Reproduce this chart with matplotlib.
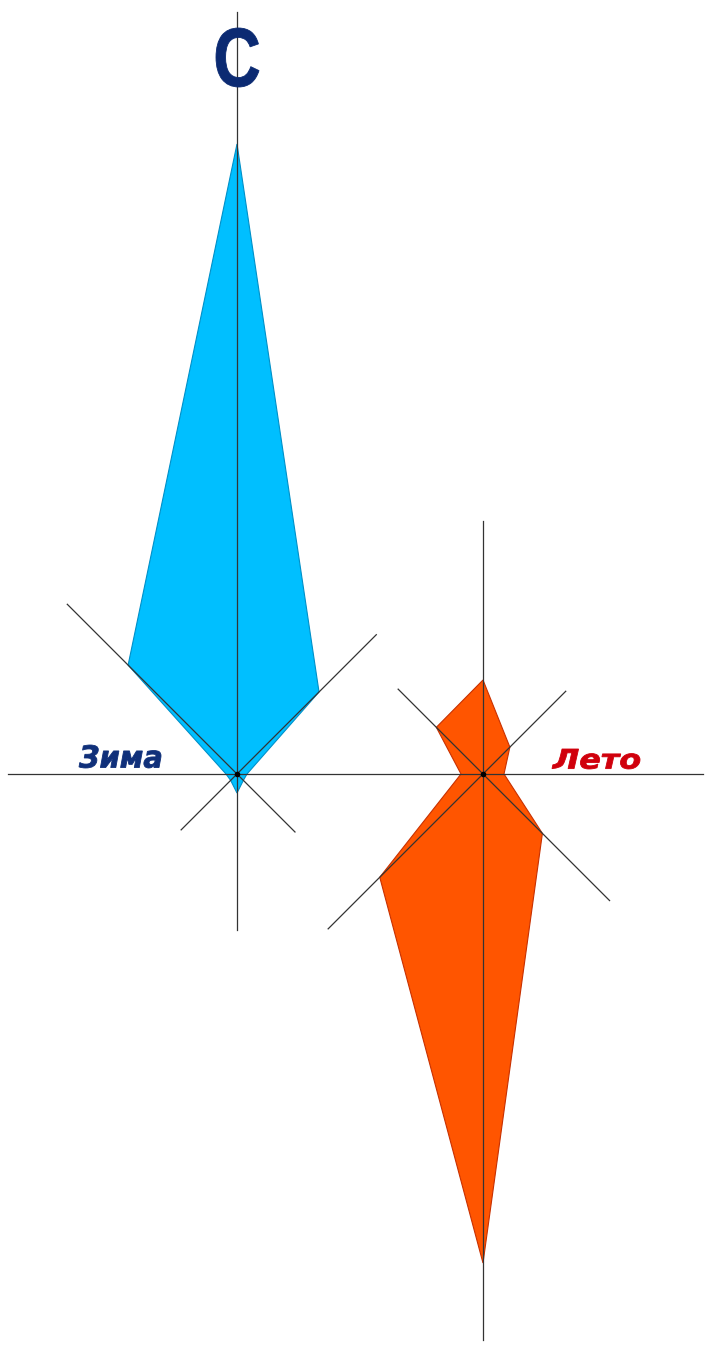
"""
Wind roses: winter (blue) and summer (orange), two polygons on compass axes
"""

import numpy as np
import matplotlib
matplotlib.use('Agg')
from matplotlib import pyplot as plt
from matplotlib.patches import Polygon, PathPatch
from matplotlib.textpath import TextPath
from matplotlib.font_manager import FontProperties
from matplotlib.transforms import Affine2D


# directions, clockwise from north
directions = ['N', 'NE', 'E', 'SE', 'S', 'SW', 'W', 'NW']
angles = [0, 45, 90, 135, 180, 225, 270, 315]

# repeat frequency, %
winter = [63.0, 11.6, 1.0, 0.9, 1.9, 0.9, 1.1, 15.4]
summer = [9.4, 3.8, 2.1, 8.4, 48.9, 14.6, 2.2, 6.6]

# length of the drawn compass arms, same units
winter_arms = [76.2, 19.7, 0, 8.2, 15.6, 7.9, 0, 24.0]
summer_arms = [25.3, 11.7, 0, 17.9, 56.6, 21.9, 0, 12.0]

scale = 10.0  # pixels per percent


def rose_points(values, cx, cy):
    pts = []
    for v, a in zip(values, angles):
        t = np.radians(a)
        r = v * scale
        pts.append((cx + r * np.sin(t), cy - r * np.cos(t)))
    return pts


def draw_arms(ax, arms, cx, cy):
    for r, a in zip(arms, angles):
        if r == 0:
            continue
        t = np.radians(a)
        r = r * scale
        ax.plot([cx, cx + r * np.sin(t)], [cy, cy - r * np.cos(t)],
                color='#333333', lw=0.9, zorder=3)
    ax.plot(cx, cy, 'o', color='black', ms=3, zorder=4)


def box_text(ax, s, x0, x1, y0, y1, color, fp):
    # text fitted into a box (y goes down in this axes)
    path = TextPath((0, 0), s, size=100, prop=fp)
    ext = path.get_extents()
    sx = (x1 - x0) / ext.width
    sy = (y1 - y0) / ext.height
    tr = (Affine2D().translate(-ext.x0, -ext.y1)
          .scale(sx, -sy).translate(x0, y0))
    ax.add_patch(PathPatch(tr.transform_path(path), facecolor=color,
                           edgecolor=color, lw=0.6, zorder=5))


def main():
    fig = plt.figure(figsize=(7.14, 13.56), dpi=100)
    ax = fig.add_axes([0, 0, 1, 1])
    ax.set_xlim(0, 714)
    ax.set_ylim(1356, 0)
    ax.set_aspect('equal')
    ax.axis('off')

    wx, wy = 237, 774
    sx, sy = 483, 774

    ax.add_patch(Polygon(rose_points(winter, wx, wy), closed=True,
                         facecolor='#00BFFF', edgecolor='#0090C8',
                         lw=0.8, zorder=2))
    ax.add_patch(Polygon(rose_points(summer, sx, sy), closed=True,
                         facecolor='#FF5500', edgecolor='#C83000',
                         lw=0.8, zorder=2))

    # shared east-west line
    ax.plot([8, 703], [wy, wy], color='#333333', lw=0.9, zorder=3)
    draw_arms(ax, winter_arms, wx, wy)
    draw_arms(ax, summer_arms, sx, sy)

    bold = FontProperties(family='Liberation Sans', weight='bold')
    bold_it = FontProperties(family='DejaVu Sans', weight='bold',
                             style='oblique')
    box_text(ax, 'С', 216, 259, 28, 87, '#0B2A72', bold)
    box_text(ax, 'Зима', 79, 161, 745, 768, '#10307A', bold_it)
    box_text(ax, 'Лето', 552, 640, 749, 769, '#D0000C', bold_it)

    fig.savefig('out.png', dpi=100)


if __name__ == '__main__':
    main()
